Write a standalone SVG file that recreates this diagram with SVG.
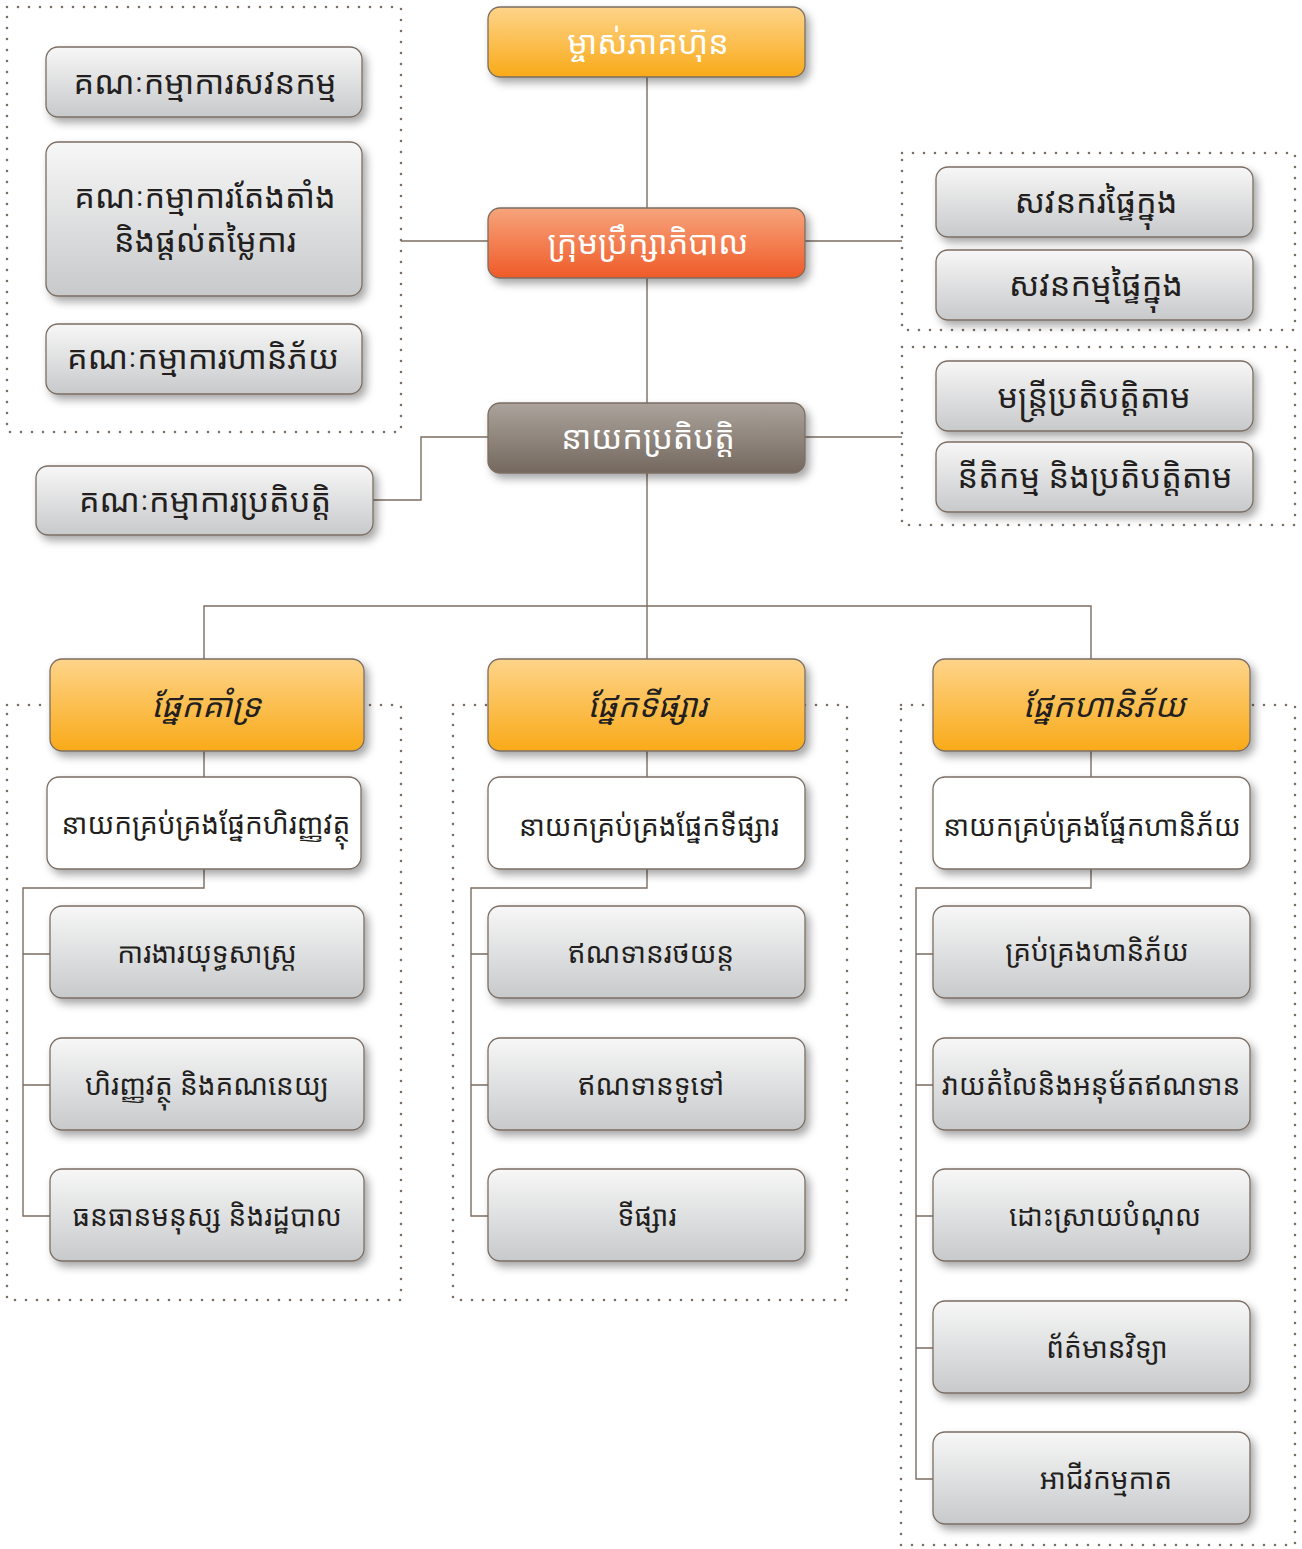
<svg xmlns="http://www.w3.org/2000/svg" width="1302" height="1549" viewBox="0 0 1302 1549">
<defs>
<linearGradient id="gOrange" x1="0" y1="0" x2="0" y2="1"><stop offset="0" stop-color="#fed48a"/><stop offset="1" stop-color="#f9aa18"/></linearGradient>
<linearGradient id="gRed" x1="0" y1="0" x2="0" y2="1"><stop offset="0" stop-color="#f7a47c"/><stop offset="1" stop-color="#ef5a28"/></linearGradient>
<linearGradient id="gBrown" x1="0" y1="0" x2="0" y2="1"><stop offset="0" stop-color="#aba39c"/><stop offset="1" stop-color="#74685e"/></linearGradient>
<linearGradient id="gGray" x1="0" y1="0" x2="0" y2="1"><stop offset="0" stop-color="#f7f7f7"/><stop offset="1" stop-color="#c8c9cb"/></linearGradient>
<filter id="sh" x="-10%" y="-20%" width="125%" height="150%"><feDropShadow dx="4" dy="5" stdDeviation="4" flood-color="#000" flood-opacity="0.35"/></filter>
</defs>
<style>
.dot{fill:none;stroke:#7b6e63;stroke-width:2.6;stroke-linecap:round;stroke-dasharray:0 11}
.ln{fill:none;stroke:#7b6e63;stroke-width:1.4}
.box{stroke:#7b6e63;stroke-width:1.3;filter:url(#sh)}
.gray{fill:url(#gGray)}
.white{fill:#ffffff}
.orange{fill:url(#gOrange)}
.red{fill:url(#gRed)}
.brown{fill:url(#gBrown)}
text{font-family:"Noto Sans Khmer","Khmer OS","Khmer OS System","Noto Serif Khmer","DejaVu Sans",sans-serif;text-anchor:middle;dominant-baseline:central}
.tw{fill:#ffffff;font-size:32.5px}
.tu{fill:#231f20;font-size:32.5px}
.td{fill:#231f20;font-size:28px}
.ti{fill:#231f20;font-size:32.5px;font-style:italic}
</style>
<g id="frames">
<rect class="dot" x="7" y="7" width="394" height="425"/>
<rect class="dot" x="902" y="153" width="393" height="177"/>
<rect class="dot" x="902" y="347" width="393" height="178"/>
<rect class="dot" x="7" y="705" width="394" height="595"/>
<rect class="dot" x="453" y="705" width="394" height="595"/>
<rect class="dot" x="901" y="705" width="394" height="840"/>
</g>
<g id="connectors">
<path class="ln" d="M647 77V606"/>
<path class="ln" d="M401 241H488M805 241H902M805 437H902"/>
<path class="ln" d="M488 437H421V500H373"/>
<path class="ln" d="M204 659V606H1091V659M647 606V659"/>
<path class="ln" d="M204 751V777M204 869V888H23V1216H50M23 954H50M23 1085H50"/>
<path class="ln" d="M647 751V777M647 869V888H471V1216H488M471 954H488M471 1085H488"/>
<path class="ln" d="M1091 751V777M1091 869V888H916V1479H933M916 954H933M916 1085H933M916 1216H933M916 1348H933"/>
</g>
<g id="n-shareholders"><rect class="box orange" x="488" y="7" width="317" height="70" rx="12"/><text class="tw" x="648" y="41">ម្ចាស់ភាគហ៊ុន</text></g>
<g id="n-board"><rect class="box red" x="488" y="208" width="317" height="70" rx="12"/><text class="tw" x="648" y="241">ក្រុមប្រឹក្សាភិបាល</text></g>
<g id="n-ceo"><rect class="box brown" x="488" y="403" width="317" height="70" rx="12"/><text class="tw" x="648" y="436">នាយកប្រតិបត្តិ</text></g>
<g id="n-audit-comm"><rect class="box gray" x="46" y="47" width="316" height="70" rx="12"/><text class="tu" x="205" y="81">គណៈកម្មាការសវនកម្ម</text></g>
<g id="n-nom-comm"><rect class="box gray" x="46" y="142" width="316" height="154" rx="12"/><text class="tu" x="205" y="195">គណៈកម្មាការតែងតាំង</text><text class="tu" x="205" y="239">និងផ្តល់តម្លៃការ</text></g>
<g id="n-risk-comm"><rect class="box gray" x="46" y="324" width="316" height="70" rx="12"/><text class="tu" x="203" y="356">គណៈកម្មាការហានិភ័យ</text></g>
<g id="n-exec-comm"><rect class="box gray" x="36" y="466" width="337" height="69" rx="12"/><text class="tu" x="205" y="499">គណៈកម្មាការប្រតិបត្តិ</text></g>
<g id="n-int-auditor"><rect class="box gray" x="936" y="167" width="317" height="70" rx="12"/><text class="tu" x="1096" y="200">សវនករផ្ទៃក្នុង</text></g>
<g id="n-int-audit"><rect class="box gray" x="936" y="250" width="317" height="70" rx="12"/><text class="tu" x="1096" y="283">សវនកម្មផ្ទៃក្នុង</text></g>
<g id="n-compliance-officer"><rect class="box gray" x="936" y="361" width="317" height="70" rx="12"/><text class="tu" x="1094" y="395">មន្ត្រីប្រតិបត្តិតាម</text></g>
<g id="n-legal"><rect class="box gray" x="936" y="442" width="317" height="70" rx="12"/><text class="tu" x="1095" y="475">នីតិកម្ម និងប្រតិបត្តិតាម</text></g>
<g id="n-support"><rect class="box orange" x="50" y="659" width="314" height="92" rx="12"/><text class="ti" x="206" y="704">ផ្នែកគាំទ្រ</text></g>
<g id="n-marketing"><rect class="box orange" x="488" y="659" width="317" height="92" rx="12"/><text class="ti" x="647" y="704">ផ្នែកទីផ្សារ</text></g>
<g id="n-risk"><rect class="box orange" x="933" y="659" width="317" height="92" rx="12"/><text class="ti" x="1104" y="704">ផ្នែកហានិភ័យ</text></g>
<g id="n-cfo"><rect class="box white" x="47" y="777" width="314" height="92" rx="12"/><text class="td" x="206" y="823">នាយកគ្រប់គ្រងផ្នែកហិរញ្ញវត្ថុ</text></g>
<g id="n-cmo"><rect class="box white" x="488" y="777" width="317" height="92" rx="12"/><text class="td" x="649" y="825">នាយកគ្រប់គ្រងផ្នែកទីផ្សារ</text></g>
<g id="n-cro"><rect class="box white" x="933" y="777" width="317" height="92" rx="12"/><text class="td" x="1092" y="825">នាយកគ្រប់គ្រងផ្នែកហានិភ័យ</text></g>
<g id="n-strategy"><rect class="box gray" x="50" y="906" width="314" height="92" rx="12"/><text class="td" x="207" y="952">ការងារយុទ្ធសាស្ត្រ</text></g>
<g id="n-finance"><rect class="box gray" x="50" y="1038" width="314" height="92" rx="12"/><text class="td" x="207" y="1084">ហិរញ្ញវត្ថុ និងគណនេយ្យ</text></g>
<g id="n-hr"><rect class="box gray" x="50" y="1169" width="314" height="92" rx="12"/><text class="td" x="207" y="1215">ធនធានមនុស្ស និងរដ្ឋបាល</text></g>
<g id="n-car-loan"><rect class="box gray" x="488" y="906" width="317" height="92" rx="12"/><text class="td" x="651" y="952">ឥណទានរថយន្ត</text></g>
<g id="n-general-loan"><rect class="box gray" x="488" y="1038" width="317" height="92" rx="12"/><text class="td" x="651" y="1084">ឥណទានទូទៅ</text></g>
<g id="n-market"><rect class="box gray" x="488" y="1169" width="317" height="92" rx="12"/><text class="td" x="647" y="1215">ទីផ្សារ</text></g>
<g id="n-risk-mgmt"><rect class="box gray" x="933" y="906" width="317" height="92" rx="12"/><text class="td" x="1097" y="950">គ្រប់គ្រងហានិភ័យ</text></g>
<g id="n-appraisal"><rect class="box gray" x="933" y="1038" width="317" height="92" rx="12"/><text class="td" x="1091" y="1084">វាយតំលៃនិងអនុម័តឥណទាន</text></g>
<g id="n-collection"><rect class="box gray" x="933" y="1169" width="317" height="92" rx="12"/><text class="td" x="1105" y="1215">ដោះស្រាយបំណុល</text></g>
<g id="n-it"><rect class="box gray" x="933" y="1301" width="317" height="92" rx="12"/><text class="td" x="1107" y="1347">ព័ត៌មានវិទ្យា</text></g>
<g id="n-card"><rect class="box gray" x="933" y="1432" width="317" height="92" rx="12"/><text class="td" x="1106" y="1478">អាជីវកម្មកាត</text></g>
</svg>
